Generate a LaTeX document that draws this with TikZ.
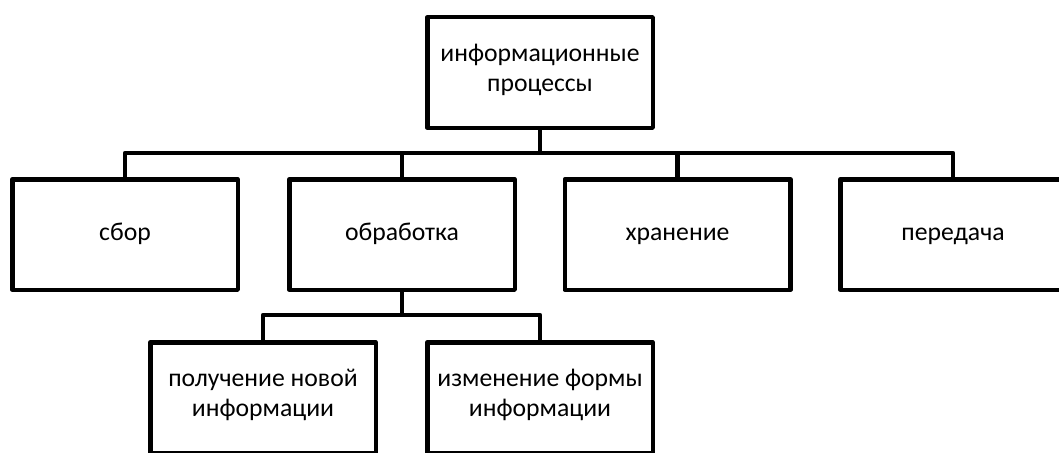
\documentclass[tikz,border=0pt]{standalone}
\usepackage{fontspec}
\setmainfont{Carlito}
\begin{document}
\begin{tikzpicture}[x=1pt,y=-1pt,
  box/.style={draw=black, line width=4.5pt, line join=round, fill=white,
    minimum width=225.5pt, minimum height=110.5pt, inner sep=0pt,
    align=center, font=\fontsize{25.7}{30}\selectfont\strut},
  conn/.style={draw=black, line width=4.5pt, line join=round}]
\useasboundingbox (0,0) rectangle (1059,452);
\clip (0,0) rectangle (1059,452);
\fill[white] (0,0) rectangle (1059,452);
\node[box] (top) at (540,72.5) {информационные\\процессы};
\node[box] (sbor) at (125,234.5) {сбор};
\node[box] (obr) at (402,234.5) {обработка};
\node[box] (hran) at (677.5,234.5) {хранение};
\node[box] (pered) at (953,234.5) {передача};
\node[box] (poluch) at (263,397.5) {получение новой\\информации};
\node[box] (izm) at (540,397.5) {изменение формы\\информации};
\coordinate (bar1) at (540,153);
\coordinate (bar2) at (402,315);
\foreach \c in {sbor,obr,hran,pered}
  \draw[conn] (top.south) -- (bar1) -| (\c.north);
\foreach \c in {poluch,izm}
  \draw[conn] (obr.south) -- (bar2) -| (\c.north);
\end{tikzpicture}
\end{document}
